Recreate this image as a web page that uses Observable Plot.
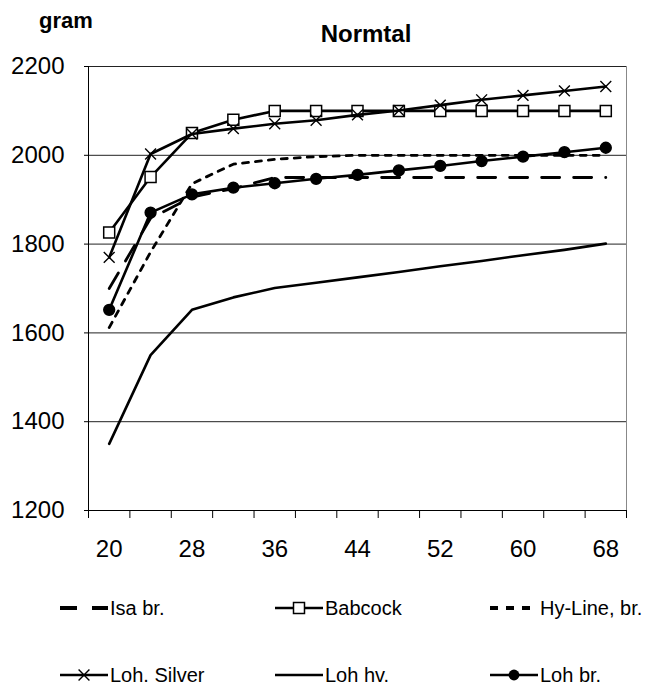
<!DOCTYPE html>
<html><head><meta charset="utf-8">
<script src="https://cdn.jsdelivr.net/npm/d3@7"></script>
<script src="https://cdn.jsdelivr.net/npm/@observablehq/plot@0.6"></script>
<style>
body{margin:0;background:#fff;font-family:"Liberation Sans",Arial,sans-serif;}
#wrap{position:relative;width:650px;height:689px;background:#fff;}
#wrap > svg{position:absolute;left:0;top:0;}
</style></head><body><div id="wrap"></div>
<script>
// ---- data ----
const weeks = [20,24,28,32,36,40,44,48,52,56,60,64,68];
const isaBr     = [1700,1858,1906,1925,1950,1950,1950,1950,1950,1950,1950,1950,1950];
const babcock   = [1826,1951,2050,2080,2100,2100,2100,2100,2100,2100,2100,2100,2100];
const hyLine    = [1612,1782,1936,1980,1991,1997,2000,2000,2000,2000,2000,2000,2000];
const lohSilver = [1770,2003,2048,2060,2071,2079,2091,2101,2113,2125,2135,2145,2155];
const lohHv     = [1350,1550,1652,1680,1701,1713,1725,1737,1750,1762,1775,1787,1801];
const lohBr     = [1652,1871,1912,1927,1937,1947,1956,1966,1976,1987,1997,2007,2017];
const seriesNames = ["Isa br.","Babcock","Hy-Line, br.","Loh. Silver","Loh hv.","Loh br."];
const yTicks = [1200,1400,1600,1800,2000,2200];
const xTickLabels = [20,28,36,44,52,60,68];
const xTickMarks = [18,22,26,30,34,38,42,46,50,54,58,62,66,70];
const titleText = "Normtal";
const yUnit = "gram";

// ---- styles ----
const styles = [
  {dash:"18,14", legendDash:"17,15", legendW:48, marker:null},
  {dash:null, marker:null, legendW:48, marker:"square"},
  {dash:"6,7", legendDash:"8,8", legendW:41, marker:null},
  {dash:null, legendW:48, marker:"times"},
  {dash:null, legendW:48, marker:null},
  {dash:null, legendW:48, marker:"circle"}
];
const seriesValues = [isaBr, babcock, hyLine, lohSilver, lohHv, lohBr];
const series = seriesNames.map((name,i)=>({
  name, ...styles[i],
  rows: weeks.map((w,j)=>({week:w, value:seriesValues[i][j]}))
}));

function markerMark(s){
  if (s.marker==="square") return Plot.dot(s.rows,{x:"week",y:"value",symbol:"square",r:6.2,fill:"#fff",stroke:"#000",strokeWidth:1.5});
  if (s.marker==="times") return Plot.dot(s.rows,{x:"week",y:"value",symbol:"times",r:5,stroke:"#000",strokeWidth:1.4});
  if (s.marker==="circle") return Plot.dot(s.rows,{x:"week",y:"value",symbol:"circle",r:5.4,fill:"#000",stroke:"#000"});
  return null;
}

const marks = [
  Plot.frame({stroke:"#888"}),
  Plot.ruleY(yTicks.filter(v=>v>1200),{stroke:"#222",strokeWidth:1}),
  Plot.ruleX([18],{stroke:"#000"}),
  Plot.ruleY([1200],{stroke:"#000"}),
  Plot.axisY({ticks:yTicks,tickSize:4,tickPadding:20,fontSize:24,tickFormat:d=>String(d),label:null}),
  Plot.axisX({ticks:xTickMarks,tickSize:8,tickFormat:()=>"",label:null}),
  Plot.axisX({ticks:xTickLabels,tickSize:0,tickPadding:29,fontSize:24,tickFormat:d=>String(d),label:null})
];
series.forEach(s=>{
  marks.push(Plot.line(s.rows,{x:"week",y:"value",stroke:"#000",strokeWidth:s.dash?2.8:2.6,strokeDasharray:s.dash||undefined}));
  const m = markerMark(s); if (m) marks.push(m);
});

const chart = Plot.plot({
  width:650, height:570,
  marginLeft:88, marginRight:24, marginTop:66, marginBottom:60,
  x:{type:"linear",domain:[18,70]},
  y:{domain:[1200,2200]},
  style:{fontFamily:"'Liberation Sans', Arial, sans-serif",background:"#fff",color:"#000",overflow:"visible"},
  marks
});
const wrap = document.getElementById("wrap");
wrap.appendChild(chart);

// ---- title, unit label and legend overlay ----
const ov = d3.select(wrap).append("svg").attr("width",650).attr("height",689)
  .style("font-family","'Liberation Sans', Arial, sans-serif").style("pointer-events","none");
ov.append("text").attr("x",66).attr("y",28).attr("text-anchor","middle")
  .attr("font-weight","bold").attr("font-size",22).text(yUnit);
ov.append("text").attr("x",366).attr("y",42).attr("text-anchor","middle")
  .attr("font-weight","bold").attr("font-size",24).text(titleText);

series.forEach((s,i)=>{
  const col=i%3, row=Math.floor(i/3);
  const g = ov.append("g").attr("transform",`translate(${60+col*215},${608+row*67})`);
  g.append("line").attr("x1",0).attr("x2",s.legendW).attr("y1",0).attr("y2",0)
    .attr("stroke","#000").attr("stroke-width",s.dash?4:2.6).attr("stroke-dasharray",s.legendDash||null);
  if (s.marker==="square") g.append("path").attr("transform","translate(24,0)").attr("d",d3.symbol(d3.symbolSquare,Math.PI*6.2*6.2)()).attr("fill","#fff").attr("stroke","#000").attr("stroke-width",1.5);
  if (s.marker==="times") g.append("path").attr("transform","translate(24,0)").attr("d",d3.symbol(d3.symbolTimes,Math.PI*25)()).attr("fill","none").attr("stroke","#000").attr("stroke-width",1.4);
  if (s.marker==="circle") g.append("circle").attr("cx",24).attr("cy",0).attr("r",5.4).attr("fill","#000");
  g.append("text").attr("x",50).attr("y",0).attr("dy","0.35em").attr("font-size",20).text(s.name);
});
</script>
</body></html>
